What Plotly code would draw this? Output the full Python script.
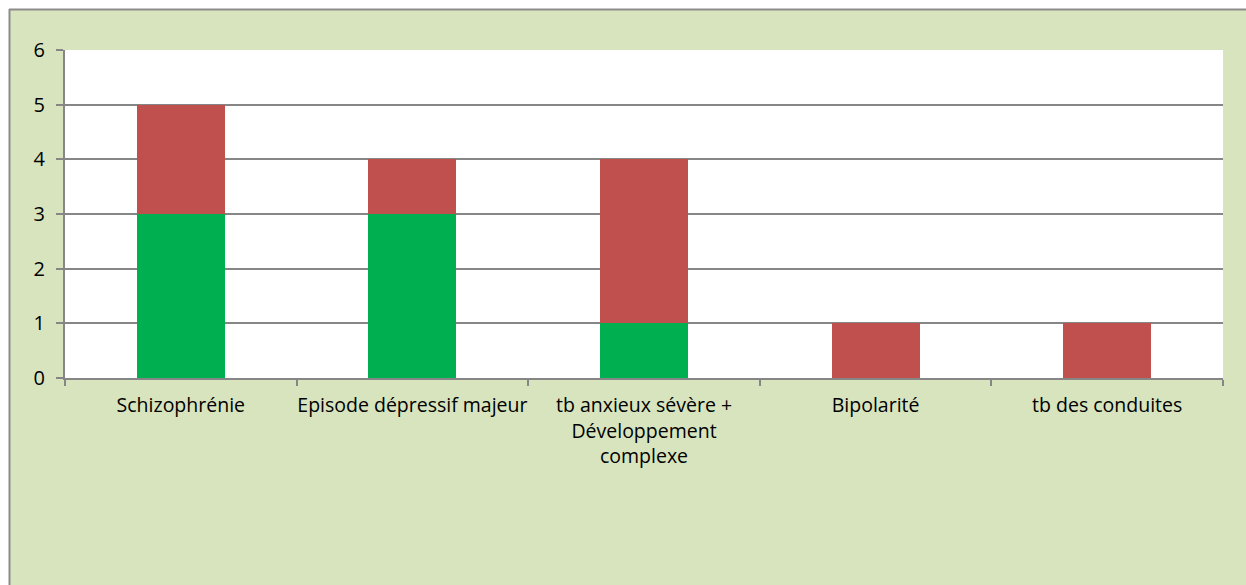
import plotly.graph_objects as go

categories = ["Schizophrénie", "Episode dépressif majeur",
              "tb anxieux sévère +<br>Développement<br>complexe",
              "Bipolarité", "tb des conduites"]
green_vals = [3, 3, 1, 0, 0]
red_vals = [2, 1, 3, 1, 1]
y_ticks = [0, 1, 2, 3, 4, 5, 6]

W, H = 1246, 585
L, R, T, B = 65, 23, 50, 207
pw, ph = W - L - R, H - T - B

def px_x(x):
    return (x - L) / pw

def px_y(y):
    return (H - B - y) / ph

fig = go.Figure()
fig.add_trace(go.Bar(x=categories, y=green_vals, marker_color="#00B050",
                     marker_line_width=0, name="A"))
fig.add_trace(go.Bar(x=categories, y=red_vals, marker_color="#C0504D",
                     marker_line_width=0, name="B"))

shapes = [
    dict(type="rect", xref="paper", yref="paper", x0=px_x(-5), x1=px_x(9),
         y0=px_y(H + 5), y1=px_y(-5), fillcolor="white", line_width=0, layer="above"),
    dict(type="rect", xref="paper", yref="paper", x0=px_x(-5), x1=px_x(W + 5),
         y0=px_y(9), y1=px_y(-5), fillcolor="white", line_width=0, layer="above"),
    dict(type="line", xref="paper", yref="paper", x0=px_x(9.5), x1=px_x(9.5),
         y0=px_y(H + 5), y1=px_y(9), line=dict(color="#8C8C8C", width=2), layer="above"),
    dict(type="line", xref="paper", yref="paper", x0=px_x(9), x1=px_x(W + 5),
         y0=px_y(9.5), y1=px_y(9.5), line=dict(color="#8C8C8C", width=2), layer="above"),
]

fig.update_layout(
    barmode="stack",
    width=W, height=H,
    margin=dict(l=L, r=R, t=T, b=B, pad=0, autoexpand=False),
    paper_bgcolor="#D7E4BD",
    plot_bgcolor="white",
    showlegend=False,
    bargap=0.62,
    font=dict(family="Open Sans", size=19.5, color="#000000"),
    shapes=shapes,
    xaxis=dict(
        type="category",
        showgrid=False,
        showline=True, linecolor="#868686", linewidth=2,
        ticks="outside", tickson="boundaries", ticklen=6, tickwidth=2,
        tickcolor="#868686",
        tickfont=dict(size=19.5),
        tickangle=0,
        automargin=False,
        ticklabelstandoff=9,
    ),
    yaxis=dict(
        range=[0, 6],
        tickvals=y_ticks,
        showgrid=True, gridcolor="#868686", gridwidth=2,
        showline=True, linecolor="#868686", linewidth=2,
        ticks="outside", ticklen=7, tickwidth=2, tickcolor="#868686",
        tickfont=dict(size=20),
        ticklabelstandoff=7,
        automargin=False,
        zeroline=False,
    ),
)

fig.write_html("out.html")
